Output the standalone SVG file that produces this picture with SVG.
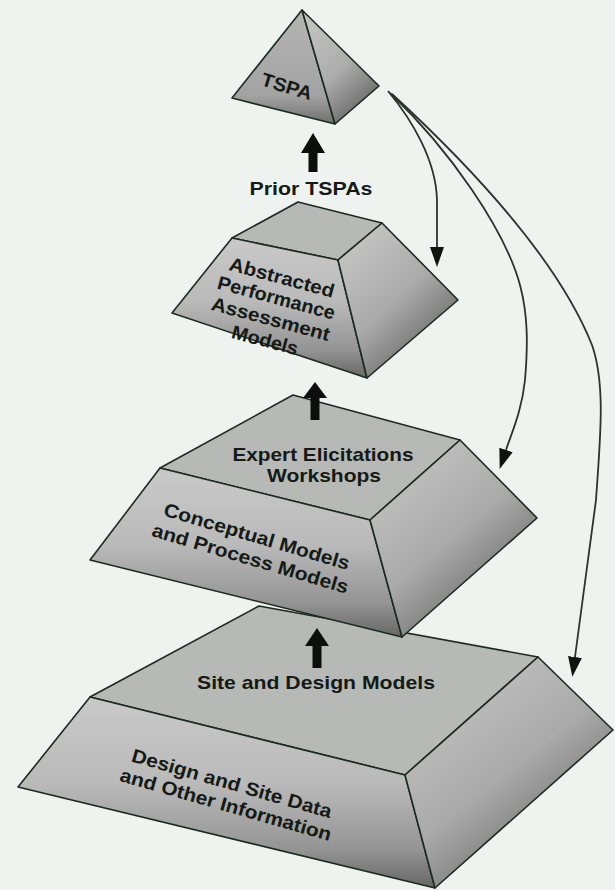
<svg xmlns="http://www.w3.org/2000/svg" width="615" height="890" viewBox="0 0 615 890">
  <style>
    .edge { stroke: #1d2a22; stroke-width: 1.6; stroke-linejoin: round; }
    .top { fill: #b7b9b7; }
    .front { fill: url(#frontShade); }
    .side { fill: url(#sideShade); }
    .lbl { font-family: "Liberation Sans", Arial, sans-serif; font-weight: bold; font-size: 19px; fill: #151a16; text-anchor: middle; }
    .flow { fill: none; stroke: #2a332d; stroke-width: 1.8; }
    .block { fill: #0d0f0d; }
  </style>
  <defs>
    <linearGradient id="frontShade" x1="0" y1="0" x2="0" y2="1">
      <stop offset="0" stop-color="#c8c9c8"/>
      <stop offset="0.45" stop-color="#b9bab9"/>
      <stop offset="0.8" stop-color="#939493"/>
      <stop offset="1" stop-color="#656665"/>
    </linearGradient>
    <linearGradient id="sideShade" x1="0.15" y1="0.1" x2="0.75" y2="0.95">
      <stop offset="0" stop-color="#c2c3c2"/>
      <stop offset="0.5" stop-color="#a9aaa9"/>
      <stop offset="0.8" stop-color="#7d7e7d"/>
      <stop offset="1" stop-color="#4a4b4a"/>
    </linearGradient>
    <linearGradient id="pyrLeft" x1="0" y1="0" x2="0" y2="1">
      <stop offset="0" stop-color="#b4b5b4"/>
      <stop offset="0.75" stop-color="#a2a3a2"/>
      <stop offset="1" stop-color="#6e6f6e"/>
    </linearGradient>
    <linearGradient id="pyrRight" x1="0" y1="0" x2="0.6" y2="1">
      <stop offset="0" stop-color="#c6c7c6"/>
      <stop offset="0.6" stop-color="#acadac"/>
      <stop offset="1" stop-color="#6a6b6a"/>
    </linearGradient>
    <marker id="head" markerUnits="userSpaceOnUse" markerWidth="22" markerHeight="16" refX="0" refY="0" viewBox="0 -8 22 16" orient="auto">
      <path d="M0,-7 L20,0 L0,7 z" fill="#0f1410"/>
    </marker>
  </defs>

  <rect width="615" height="890" fill="#eff3f0"/>

  <!-- base tier -->
  <g id="site-data">
    <polygon class="top edge" points="259,606 538,657 405,775 90,697"/>
    <polygon class="front edge" points="90,697 405,775 435,888 18,787"/>
    <polygon class="side edge" points="405,775 538,657 613,730 435,888"/>
    <text class="lbl" x="316" y="689" textLength="238" lengthAdjust="spacingAndGlyphs">Site and Design Models</text>
    <g transform="translate(232,783) rotate(16)">
      <text class="lbl" x="0" y="7" textLength="207" lengthAdjust="spacingAndGlyphs">Design and Site Data</text>
      <text class="lbl" x="0" y="29" textLength="219" lengthAdjust="spacingAndGlyphs">and Other Information</text>
    </g>
  </g>

  <!-- process tier -->
  <g id="conceptual">
    <polygon class="top edge" points="293,395 460,440 370,520 160,468"/>
    <polygon class="front edge" points="160,468 370,520 402,637 90,560"/>
    <polygon class="side edge" points="370,520 460,440 537,518 402,637"/>
    <text class="lbl" x="323" y="461" textLength="181" lengthAdjust="spacingAndGlyphs">Expert Elicitations</text>
    <text class="lbl" x="324" y="482" textLength="114" lengthAdjust="spacingAndGlyphs">Workshops</text>
    <g transform="translate(257,536) rotate(16.5)">
      <text class="lbl" x="0" y="7" textLength="193" lengthAdjust="spacingAndGlyphs">Conceptual Models</text>
      <text class="lbl" x="0" y="30" textLength="204" lengthAdjust="spacingAndGlyphs">and Process Models</text>
    </g>
  </g>

  <!-- abstraction tier -->
  <g id="abstracted">
    <polygon class="top edge" points="298,202 382,223 338,260 232,238"/>
    <polygon class="front edge" points="232,238 338,260 367,378 172,313"/>
    <polygon class="side edge" points="338,260 382,223 458,300 367,378"/>
    <g transform="translate(282,277) rotate(15)">
      <text class="lbl" x="0" y="7" textLength="108" lengthAdjust="spacingAndGlyphs">Abstracted</text>
      <text class="lbl" x="0" y="28" textLength="121" lengthAdjust="spacingAndGlyphs">Performance</text>
      <text class="lbl" x="0" y="50" textLength="122" lengthAdjust="spacingAndGlyphs">Assessment</text>
      <text class="lbl" x="0" y="72" textLength="68" lengthAdjust="spacingAndGlyphs">Models</text>
    </g>
  </g>

  <!-- apex -->
  <g id="tspa">
    <polygon class="edge" fill="url(#pyrLeft)" points="232,98 302,10 335,124"/>
    <polygon class="edge" fill="url(#pyrRight)" points="302,10 379,86 335,124"/>
    <text class="lbl" transform="translate(287,86) rotate(17)" x="0" y="7" textLength="52" lengthAdjust="spacingAndGlyphs">TSPA</text>
  </g>

  <text id="prior-label" class="lbl" x="311" y="195" textLength="123" lengthAdjust="spacingAndGlyphs">Prior TSPAs</text>

  <g id="connectors">
    <!-- upward block arrows between tiers -->
    <polygon class="block" points="313,133 325,153 317.5,153 317.5,172 308.5,172 308.5,153 301,153"/>
    <polygon class="block" points="315,382 327,398 319.5,398 319.5,420 310.5,420 310.5,398 303,398"/>
    <polygon class="block" points="317,628 329,646 321.5,646 321.5,668 312.5,668 312.5,646 305,646"/>
    <!-- feedback curves from the apex -->
    <path class="flow" marker-end="url(#head)" d="M388,91 C412,120 436,160 437,200 L437,247"/>
    <path class="flow" marker-end="url(#head)" d="M390,93 C450,150 505,230 520,285 C528,315 528,345 525,380 C522,410 512,432 506,450"/>
    <path class="flow" marker-end="url(#head)" d="M392,94 C480,175 560,265 592,345 C606,385 600,440 596,500 L575,657"/>
  </g>
</svg>
